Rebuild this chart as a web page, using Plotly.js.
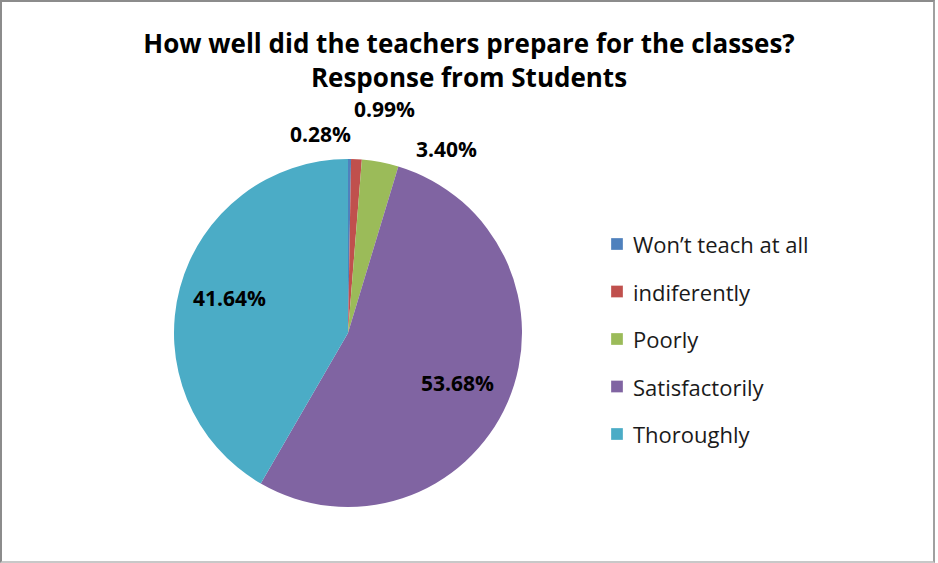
<!DOCTYPE html>
<html>
<head>
<meta charset="utf-8">
<script src="https://cdn.plot.ly/plotly-3.0.1.min.js"></script>
<style>
  html, body { margin: 0; padding: 0; background: #fff; }
  #frame { position: absolute; left: 0; top: 0; width: 931px; height: 559px; border: 2px solid #8c8c8c; border-bottom-color: #c8c8c8; border-right-color: #a0a0a0; background: #fff; }
  #chart { position: absolute; left: 0; top: 0; width: 938px; height: 563px; }
</style>
</head>
<body>
<div id="frame"></div>
<div id="chart"></div>
<script>
// ---- data ----
const categories = ["Won\u2019t teach at all", "indiferently", "Poorly", "Satisfactorily", "Thoroughly"];
const percentValues = [0.28, 0.99, 3.40, 53.68, 41.64];
const sliceColors = ["#4F81BD", "#C0504D", "#9BBB59", "#8064A2", "#4BACC6"];

// ---- layout helpers (positions, not data) ----
const W = 938, H = 563;
const cx = 348, cy = 333, R = 174;
const labelPos = [[320, 134], [384, 109], [446, 149], [457, 383], [229, 298]]; // px
const legendX = 611, legendY0 = 244, legendStep = 47.5, sq = 12;
const FONT = "'Open Sans', Lato, sans-serif";

const annotations = [];
const shapes = [];
categories.forEach((c, i) => {
  annotations.push({
    xref: "paper", yref: "paper",
    x: labelPos[i][0] / W, y: 1 - labelPos[i][1] / H,
    xanchor: "center", yanchor: "middle",
    text: "<b>" + percentValues[i].toFixed(2) + "%</b>",
    showarrow: false,
    font: { family: FONT, size: 21, color: "#000" }
  });
  const ly = legendY0 + i * legendStep;
  shapes.push({
    type: "rect", xref: "paper", yref: "paper",
    x0: legendX / W, x1: (legendX + sq) / W,
    y0: 1 - (ly + sq / 2) / H, y1: 1 - (ly - sq / 2) / H,
    fillcolor: sliceColors[i], line: { width: 0.5, color: "rgba(255,255,255,0.6)" }
  });
  annotations.push({
    xref: "paper", yref: "paper",
    x: (legendX + sq + 8) / W, y: 1 - ly / H,
    xanchor: "left", yanchor: "middle",
    text: c, showarrow: false,
    font: { family: FONT, size: 22, color: "#1a1a1a" }
  });
});

const trace = {
  type: "pie",
  labels: categories,
  values: percentValues,
  marker: { colors: sliceColors, line: { width: 0 } },
  sort: false,
  direction: "clockwise",
  rotation: 0,
  textinfo: "none",
  hoverinfo: "label+value",
  showlegend: false,
  domain: { x: [(cx - R) / W, (cx + R) / W], y: [1 - (cy + R) / H, 1 - (cy - R) / H] }
};

const layout = {
  width: W, height: H,
  margin: { l: 0, r: 0, t: 0, b: 0 },
  paper_bgcolor: "rgba(0,0,0,0)",
  plot_bgcolor: "rgba(0,0,0,0)",
  showlegend: false,
  title: {
    text: "<b>How well did the teachers prepare for the classes?<br>Response from Students</b>",
    font: { family: FONT, size: 26, color: "#000" },
    x: 0.5, xanchor: "center",
    y: 1 - 53 / H, yanchor: "middle"
  },
  annotations: annotations,
  shapes: shapes
};

Plotly.newPlot("chart", [trace], layout, { displayModeBar: false, staticPlot: true });
</script>
</body>
</html>
